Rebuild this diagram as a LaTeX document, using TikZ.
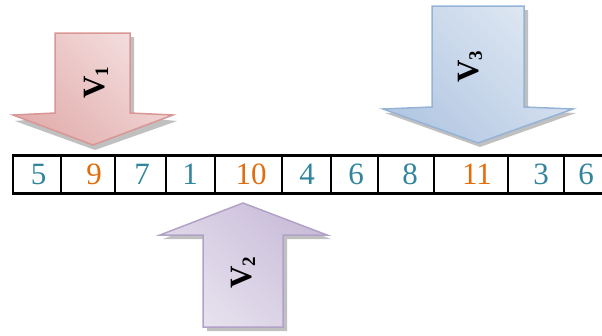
\documentclass[tikz,border=0pt]{standalone}
\usepackage{fontspec}
\setmainfont{Liberation Serif}
\definecolor{tealnum}{HTML}{31859C}
\definecolor{orangenum}{HTML}{E46C0A}
\definecolor{redA}{HTML}{F4DEDE}
\definecolor{redB}{HTML}{E2AFAE}
\definecolor{redE}{HTML}{D99694}
\definecolor{blueA}{HTML}{DEE7F2}
\definecolor{blueB}{HTML}{B4C8E3}
\definecolor{blueE}{HTML}{95B3D7}
\definecolor{purA}{HTML}{E8E3EF}
\definecolor{purB}{HTML}{C9BDD9}
\definecolor{purE}{HTML}{B3A2C7}
\begin{document}
\begin{tikzpicture}[x=1pt,y=-1pt,
  cell/.style={draw=black, line width=2.4pt, minimum height=38pt, inner sep=0pt},
  num/.style={font=\fontsize{31}{31}\selectfont, inner sep=0pt, anchor=base},
  shadowfill/.style={fill=black!55, opacity=0.45},
  vlabel/.style={rotate=90, inner sep=0pt, font=\fontsize{31}{31}\selectfont\bfseries},
  vsub/.style={}
]
\useasboundingbox (0,0) rectangle (602,335);
\clip (0,0) rectangle (602,335);

% ---- arrow V1 (red, pointing down)
\fill[shadowfill] (55+4,33+4) -- (130+4,33+4) -- (130+4,113+4) -- (175+2,117+4) -- (93+2,146+4) -- (13+2,117+4) -- (55+4,113+4) -- cycle;
\path[draw=redE, line width=1.5pt, shading=axis, left color=redA, right color=redB, shading angle=-45]
  (55,33) -- (130,33) -- (130,113) -- (173,115) -- (93,145) -- (13,115) -- (55,113) -- cycle;
\node[vlabel] (v1) at (96,83) {V\raisebox{-0.12em}{\fontsize{19}{19}\selectfont 1}};

% ---- arrow V3 (blue, pointing down)
\fill[shadowfill] (432+4,6+4) -- (524+4,6+4) -- (524+4,107+4) -- (574+2,109+4) -- (478+2,143+4) -- (383+2,109+4) -- (432+4,107+4) -- cycle;
\path[draw=blueE, line width=1.5pt, shading=axis, left color=blueA, right color=blueB, shading angle=-45]
  (432,6) -- (524,6) -- (524,107) -- (573,109) -- (478,143) -- (383,109) -- (432,107) -- cycle;
\node[vlabel] (v3) at (470,67) {V\raisebox{-0.12em}{\fontsize{19}{19}\selectfont 3}};

% ---- arrow V2 (purple, pointing up)
\fill[shadowfill] (243+3,203+4) -- (327+4,235+4) -- (283+4,235+4) -- (283+4,327+4) -- (203+4,327+4) -- (203+4,235+4) -- (160+3,235+4) -- cycle;
\path[draw=purE, line width=1.5pt, shading=axis, left color=purB, right color=purA, shading angle=-45]
  (243,203) -- (327,235) -- (283,235) -- (283,327) -- (203,327) -- (203,235) -- (160,235) -- cycle;
\node[vlabel] (v2) at (243,273) {V\raisebox{-0.12em}{\fontsize{19}{19}\selectfont 2}};

% ---- table
\node[cell, minimum width=48.3pt] (c1) at (36.85,174.5) {};
\node[cell, minimum width=54pt]   (c2) at (88,174.5) {};
\node[cell, minimum width=51pt]   (c3) at (140.5,174.5) {};
\node[cell, minimum width=49pt]   (c4) at (190.5,174.5) {};
\node[cell, minimum width=67pt]   (c5) at (248.5,174.5) {};
\node[cell, minimum width=49pt]   (c6) at (306.5,174.5) {};
\node[cell, minimum width=47pt]   (c7) at (354.5,174.5) {};
\node[cell, minimum width=56pt]   (c8) at (406,174.5) {};
\node[cell, minimum width=74pt]   (c9) at (471,174.5) {};
\node[cell, minimum width=56pt]   (c10) at (536,174.5) {};
\node[cell, minimum width=60pt]   (c11) at (594,174.5) {};

\node[num, text=tealnum]   (n1) at (38.5,184.5) {5};
\node[num, text=orangenum] (n2) at (94,184.5) {9};
\node[num, text=tealnum]   (n3) at (142,184.5) {7};
\node[num, text=tealnum]   (n4) at (190,184.5) {1};
\node[num, text=orangenum] (n5) at (251,184.5) {10};
\node[num, text=tealnum]   (n6) at (307,184.5) {4};
\node[num, text=tealnum]   (n7) at (356,184.5) {6};
\node[num, text=tealnum]   (n8) at (410,184.5) {8};
\node[num, text=orangenum] (n9) at (477,184.5) {11};
\node[num, text=tealnum]   (n10) at (541,184.5) {3};
\node[num, text=tealnum]   (n11) at (586,184.5) {6};
\end{tikzpicture}
\end{document}
